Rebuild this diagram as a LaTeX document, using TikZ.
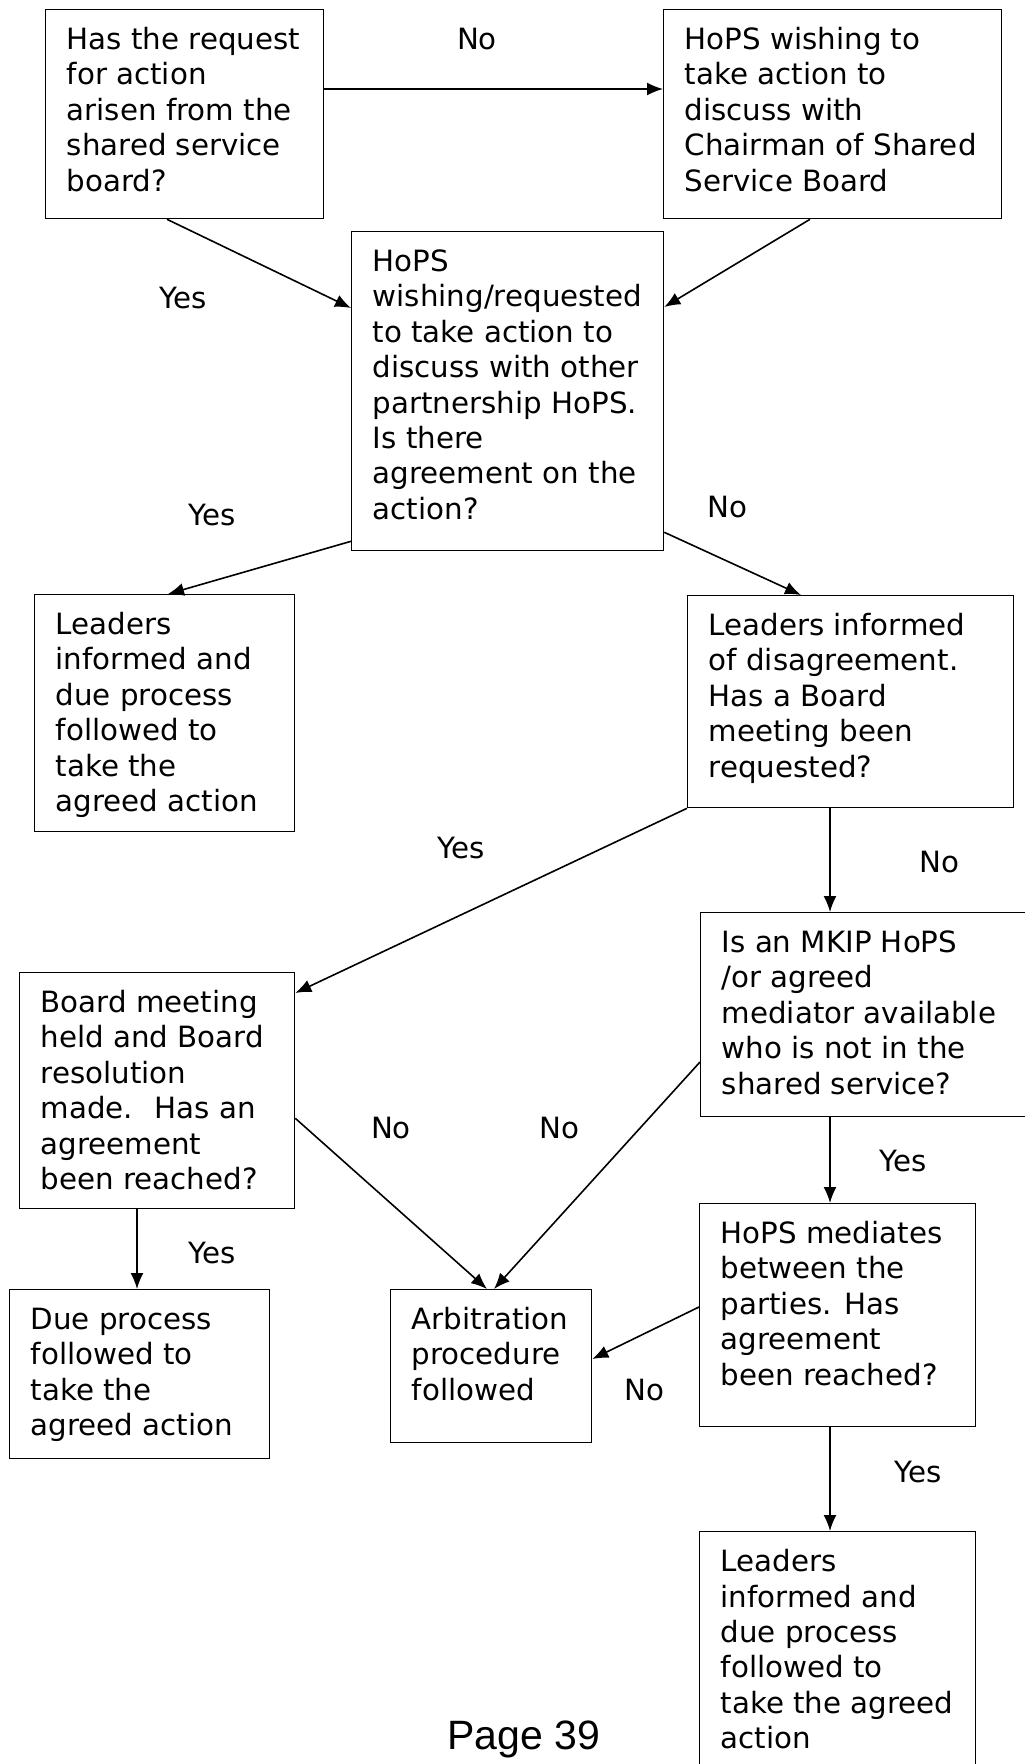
\documentclass[tikz,border=0pt]{standalone}
\usepackage{fontspec}
\setmainfont{DejaVu Sans}
\newfontfamily\pagefont{Liberation Sans}
\newcommand\boxfont{\fontsize{29.3pt}{35.4pt}\selectfont}
\usetikzlibrary{arrows.meta}

\tikzset{
  box/.style={draw, line width=1.3pt, anchor=north west, inner sep=0pt},
  txt/.style={anchor=north west, align=left, inner sep=0pt, font=\boxfont},
  lbl/.style={font=\boxfont, inner sep=0pt},
}

\begin{document}
\begin{tikzpicture}[x=1pt, y=-1pt, >={Latex[length=16pt,width=13pt]}, line width=1.6pt]
\useasboundingbox (0,0) rectangle (1025,1764);
\clip (0,0) rectangle (1025,1764);

% boxes
\node[box, minimum width=278pt, minimum height=209pt] (A) at (45,9) {};
\node[box, minimum width=338pt, minimum height=209pt] (B) at (663,9) {};
\node[box, minimum width=312pt, minimum height=319pt] (C) at (351,231) {};
\node[box, minimum width=260pt, minimum height=237pt] (D) at (34,594) {};
\node[box, minimum width=326pt, minimum height=212pt] (E) at (687,595) {};
\node[box, minimum width=275pt, minimum height=236pt] (F) at (19,972) {};
\node[box, minimum width=340pt, minimum height=204pt] (G) at (700,912) {};
\node[box, minimum width=260pt, minimum height=169pt] (H) at (9,1289) {};
\node[box, minimum width=201pt, minimum height=153pt] (I) at (390,1289) {};
\node[box, minimum width=276pt, minimum height=223pt] (J) at (699,1203) {};
\node[box, minimum width=276pt, minimum height=280pt] (K) at (699,1531) {};

% box texts
\foreach \b/\t in {
  A/{Has the request\\for action\\arisen from the\\shared service\\board?},
  B/{HoPS wishing to\\take action to\\discuss with\\Chairman of Shared\\Service Board},
  C/{HoPS\\wishing/requested\\to take action to\\discuss with other\\partnership HoPS.\\Is there\\agreement on the\\action?},
  D/{Leaders\\informed and\\due process\\followed to\\take the\\agreed action},
  E/{Leaders informed\\of disagreement.\\Has a Board\\meeting been\\requested?},
  F/{Board meeting\\held and Board\\resolution\\made.~ Has an\\agreement\\been reached?},
  G/{Is an MKIP HoPS\\/or agreed\\mediator available\\who is not in the\\shared service?},
  H/{Due process\\followed to\\take the\\agreed action},
  I/{Arbitration\\procedure\\followed},
  J/{HoPS mediates\\between the\\parties. Has\\agreement\\been reached?},
  K/{Leaders\\informed and\\due process\\followed to\\take the agreed\\action}}
{
  \node[txt] (\b t) at ([shift={(21pt,-15pt)}]\b.north west) {\strut\t};
}

% yes / no
\foreach \n/\x/\y/\t in {noAB/477/39/No, yesAC/183/298/Yes, yesCD/212/515/Yes,
  noCE/727/507/No, yesEF/461/848/Yes, noEG/939/862/No, noFI/391/1128/No,
  noGI/559/1128/No, yesGJ/903/1161/Yes, yesFH/212/1253/Yes,
  noJI/644/1390/No, yesJK/918/1472/Yes}
{
  \node[lbl] (\n) at (\x,\y) {\t};
}

% connectors
\draw[->] ([yshift=-80pt]A.north east) -- ([yshift=-80pt]B.north west);
\draw[->] ([xshift=122pt]A.south west) -- ([yshift=-77pt]C.north west);
\draw[->] ([xshift=147pt]B.south west) -- ([yshift=-76pt]C.north east);
\draw[->] ([yshift=10pt]C.south west) -- ([xshift=134pt]D.north west);
\draw[->] ([yshift=19pt]C.south east) -- ([xshift=114pt]E.north west);
\draw[->] (E.south west) -- ([yshift=-21pt]F.north east);
\draw[->] ([xshift=143pt]E.south west) -- ([xshift=130pt]G.north west);
\draw[->] ([xshift=118pt]F.south west) -- ([xshift=128pt]H.north west);
\draw[->] ([yshift=91pt]F.south east) -- ([xshift=97pt]I.north west);
\draw[->] ([yshift=-150pt]G.north west) -- ([xshift=104pt]I.north west);
\draw[->] ([xshift=130pt]G.south west) -- ([xshift=131pt]J.north west);
\draw[->] ([yshift=-104pt]J.north west) -- ([yshift=-70pt]I.north east);
\draw[->] ([xshift=131pt]J.south west) -- ([xshift=131pt]K.north west);

\node[font=\pagefont\fontsize{41pt}{49pt}\selectfont, anchor=base] (page) at (524,1749) {Page 39};
\end{tikzpicture}
\end{document}
